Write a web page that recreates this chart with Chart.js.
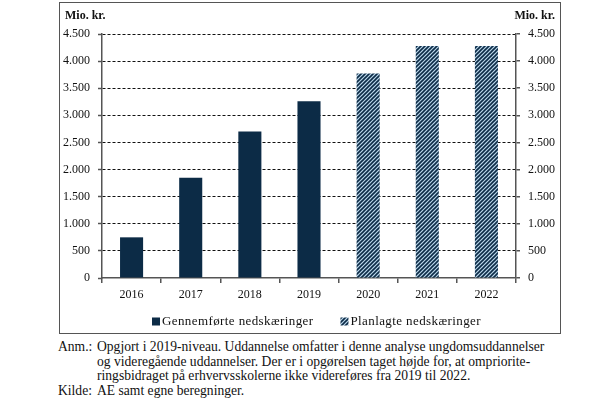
<!DOCTYPE html>
<html>
<head>
<meta charset="utf-8">
<script src="https://cdn.jsdelivr.net/npm/chart.js@4"></script>
<style>
  body{margin:0;background:#fff;width:614px;height:407px;position:relative;overflow:hidden;font-family:"Liberation Serif",serif;color:#111}
  #box{position:absolute;left:59px;top:2px;width:500px;height:330px;border:1.5px solid #555}
  #notes{position:absolute;left:58px;top:340px;font-size:13.6px;line-height:14.7px}
  .row{display:flex}
  .lbl{width:39px;flex:none}
</style>
</head>
<body>
<div id="box"><canvas id="chart" width="500" height="330"></canvas></div>
<div id="notes">
  <div class="row"><div class="lbl">Anm.:</div><div>Opgjort i 2019-niveau. Uddannelse omfatter i denne analyse ungdomsuddannelser<br>og videregående uddannelser. Der er i opgørelsen taget højde for, at ompriorite-<br>ringsbidraget på erhvervsskolerne ikke videreføres fra 2019 til 2022.</div></div>
  <div class="row"><div class="lbl">Kilde:</div><div>AE samt egne beregninger.</div></div>
</div>
<script>
// data
const years = ['2016', '2017', '2018', '2019', '2020', '2021', '2022'];
const gennemforte = [750, 1850, 2700, 3260, null, null, null];
const planlagte = [null, null, null, null, 3770, 4280, 4280];
const yMax = 4500;
const yStep = 500;

const navy = '#0c2b46';
const axisGray = '#555';

function fmt(v){ return String(v).replace(/\B(?=(\d{3})+(?!\d))/g, '.'); }

// hatch pattern (navy diagonal on light blue)
function hatch(){
  const c = document.createElement('canvas');
  c.width = 4; c.height = 4;
  const g = c.getContext('2d');
  g.fillStyle = '#b9d6ea';
  g.fillRect(0, 0, 4, 4);
  g.strokeStyle = navy;
  g.lineWidth = 1.6;
  g.beginPath();
  g.moveTo(-1, 5); g.lineTo(5, -1);
  g.moveTo(-1, 1); g.lineTo(1, -1);
  g.moveTo(3, 5); g.lineTo(5, 3);
  g.stroke();
  return g.createPattern(c, 'repeat');
}

// "Mio. kr." over both axes + hand-laid legend (tight like the original)
const extras = {
  id: 'extras',
  afterDraw(chart){
    const ctx = chart.ctx;
    ctx.save();
    ctx.font = 'bold 12px "Liberation Serif"';
    ctx.fillStyle = '#111';
    ctx.textBaseline = 'middle';
    ctx.textAlign = 'left';
    ctx.fillText('Mio. kr.', 5, 13);
    ctx.textAlign = 'right';
    ctx.fillText('Mio. kr.', 495, 13);

    ctx.font = '13px "Liberation Serif"';
    ctx.letterSpacing = '0.4px';
    ctx.textAlign = 'left';
    let x = 92;
    const y = 318.5;
    chart.data.datasets.forEach(ds => {
      ctx.fillStyle = ds.backgroundColor;
      ctx.fillRect(x, y - 4, 8, 8);
      ctx.fillStyle = '#111';
      ctx.fillText(ds.label, x + 10, y);
      x += 10 + ctx.measureText(ds.label).width + 27;
    });
    ctx.restore();
  }
};

const tickFont = { family: 'Liberation Serif', size: 12 };

new Chart(document.getElementById('chart'), {
  type: 'bar',
  data: {
    labels: years,
    datasets: [
      { label: 'Gennemførte nedskæringer', data: gennemforte, backgroundColor: navy },
      { label: 'Planlagte nedskæringer', data: planlagte, backgroundColor: hatch() }
    ]
  },
  options: {
    responsive: false,
    animation: false,
    layout: { padding: { top: 31, left: 0, right: 0, bottom: 24 } },
    datasets: { bar: { barPercentage: 0.39, categoryPercentage: 1 } },
    scales: {
      x: {
        stacked: true,
        afterFit: s => { s.height = 31; },
        grid: { drawOnChartArea: false, drawTicks: true, tickLength: 5, color: axisGray, lineWidth: 1.5 },
        border: { color: axisGray, width: 1.5 },
        ticks: { color: '#111', font: tickFont, padding: 5 }
      },
      y: {
        position: 'left',
        min: 0, max: yMax,
        afterFit: s => { s.width = 42; },
        grid: {
          color: c => c.tick && c.tick.value === 0 ? 'rgba(0,0,0,0)' : '#111',
          lineWidth: 1,
          tickLength: 4, tickColor: axisGray, tickWidth: 1.5, tickBorderDash: []
        },
        border: { color: axisGray, width: 1.5, dash: [3, 2] },
        ticks: { stepSize: yStep, color: '#111', font: tickFont, padding: 8, callback: v => fmt(v) }
      },
      y2: {
        display: true,
        position: 'right',
        min: 0, max: yMax,
        afterFit: s => { s.width = 44; },
        grid: { drawOnChartArea: false, tickLength: 4, color: axisGray, lineWidth: 1.5 },
        border: { color: axisGray, width: 1.5 },
        ticks: { stepSize: yStep, color: '#111', font: tickFont, padding: 8, callback: v => fmt(v) }
      }
    },
    plugins: {
      legend: { display: false },
      tooltip: { enabled: false }
    }
  },
  plugins: [extras]
});
</script>
</body>
</html>
